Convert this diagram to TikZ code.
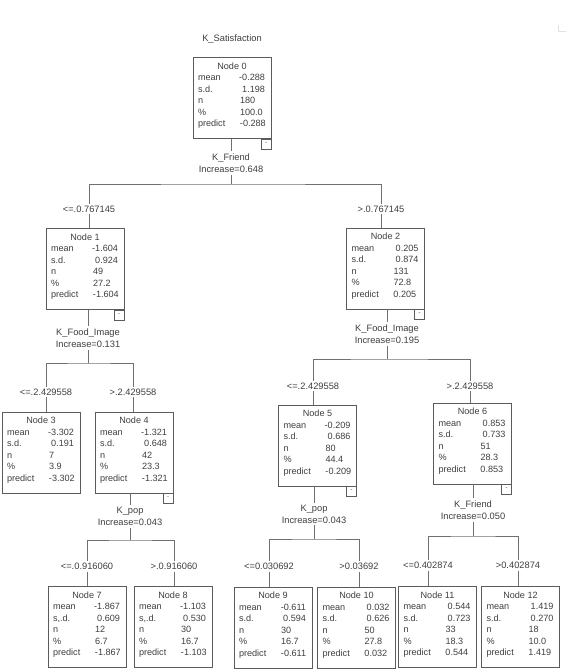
\documentclass[tikz,border=0pt]{standalone}
\usepackage{fontspec}
\setmainfont{Liberation Sans}
\usetikzlibrary{positioning}
\definecolor{TreeInk}{RGB}{62,62,62}
\definecolor{TreeLine}{RGB}{112,112,112}
\definecolor{TreeSmudge}{RGB}{225,225,225}
% one box of the tree: title, mean, s.d. label, s.d., n, %, predict
\newcommand{\statsbox}[7]{%
  \parbox[c][75pt][t]{72pt}{\centering\rule{0pt}{8.5pt}Node #1\par\raggedright
    \hspace*{2pt}\makebox[42pt][l]{mean}\makebox[25pt][r]{#2}\par
    \hspace*{2pt}\makebox[42pt][l]{#3}\makebox[25pt][r]{#4}\par
    \hspace*{2pt}\makebox[42pt][l]{n}\makebox[25pt][l]{#5}\par
    \hspace*{2pt}\makebox[42pt][l]{\%}\makebox[25pt][l]{#6}\par
    \hspace*{2pt}\makebox[42pt][l]{predict}\makebox[25pt][l]{#7}}}

\begin{document}
\begin{tikzpicture}[x=1pt,y=-1pt]
    \tikzset{statbox/.style={draw=TreeInk!85,inner sep=3pt,text=TreeInk,font=\fontsize{9.1}{11.5}\selectfont},
      fold/.style={draw=TreeInk!85,minimum size=10pt,inner sep=0pt,anchor=north east,text=TreeInk,font=\fontsize{6}{6}\selectfont},
      split/.style={align=center,inner sep=2pt,text=TreeInk,font=\fontsize{9.3}{12}\selectfont},
      cond/.style={inner sep=2pt,text=TreeInk,font=\fontsize{9.3}{10}\selectfont},
      conn/.style={draw=TreeLine,line width=0.9pt}}
    \useasboundingbox (0,0) rectangle (567,672);
    \draw[TreeSmudge,line width=0.8pt] (558,25) -- (558,31) -- (566,31);

    \node[cond] (title) at (232,39) {K\_Satisfaction};

    % root
    \node[statbox] (n0) at (232,98) {\statsbox{0}{-0.288}{s.d.}{1.198}{180}{100.0}{-0.288}};
    \node[fold] (m0) at (n0.south east) {\raisebox{0.8pt}{-}};
    \node[split] (s0) at (231,163) {K\_Friend\\Increase=0.648};
    \coordinate (b0) at (231,184);
    \node[cond] (c1) at (89,209) {<=.0.767145};
    \node[cond] (c2) at (381,209) {>.0.767145};

    % level 1
    \node[statbox] (n1) at (85,269) {\statsbox{1}{-1.604}{s.d.}{0.924}{49}{27.2}{-1.604}};
    \node[fold] (m1) at (n1.south east) {\raisebox{0.8pt}{-}};
    \node[statbox] (n2) at (385.5,268.5) {\statsbox{2}{0.205}{s.d.}{0.874}{131}{72.8}{0.205}};
    \node[fold] (m2) at (n2.south east) {\raisebox{0.8pt}{-}};

    \node[split] (s1) at (88,338) {K\_Food\_Image\\Increase=0.131};
    \coordinate (b1) at (88,363);
    \node[cond] (c3) at (46,392) {<=.2.429558};
    \node[cond] (c4) at (133,392) {>.2.429558};

    \node[split] (s2) at (387,334) {K\_Food\_Image\\Increase=0.195};
    \coordinate (b2) at (387,359);
    \node[cond] (c5) at (313,386) {<=.2.429558};
    \node[cond] (c6) at (470,386) {>.2.429558};

    % level 2
    \node[statbox] (n3) at (41,452.5) {\statsbox{3}{-3.302}{s.d.}{0.191}{7}{3.9}{-3.302}};
    \node[statbox] (n4) at (134,452.5) {\statsbox{4}{-1.321}{s.d.}{0.648}{42}{23.3}{-1.321}};
    \node[fold] (m4) at (n4.south east) {\raisebox{0.8pt}{-}};
    \node[statbox] (n5) at (317.5,445.5) {\statsbox{5}{-0.209}{s.d.}{0.686}{80}{44.4}{-0.209}};
    \node[fold] (m5) at (n5.south east) {\raisebox{0.8pt}{-}};
    \node[statbox] (n6) at (472.5,443.5) {\statsbox{6}{0.853}{s.d.}{0.733}{51}{28.3}{0.853}};
    \node[fold] (m6) at (n6.south east) {\raisebox{0.8pt}{-}};

    \node[split] (s4) at (130,516.5) {K\_pop\\Increase=0.043};
    \coordinate (b4) at (130,540);
    \node[cond] (c7) at (87,566) {<=.0.916060};
    \node[cond] (c8) at (174,566) {>.0.916060};

    \node[split] (s5) at (314,514) {K\_pop\\Increase=0.043};
    \coordinate (b5) at (314,539);
    \node[cond] (c9) at (269,566) {<=0.030692};
    \node[cond] (c10) at (359,566) {>0.03692};

    \node[split] (s6) at (473,510) {K\_Friend\\Increase=0.050};
    \coordinate (b6) at (473,536);
    \node[cond] (c11) at (428,565) {<=0.402874};
    \node[cond] (c12) at (518,565) {>0.402874};

    % leaves
    \node[statbox] (n7) at (87,627) {\statsbox{7}{-1.867}{s,.d.}{0.609}{12}{6.7}{-1.867}};
    \node[statbox] (n8) at (173,627) {\statsbox{8}{-1.103}{s,.d.}{0.530}{30}{16.7}{-1.103}};
    \node[statbox] (n9) at (273,627.5) {\statsbox{9}{-0.611}{s.d.}{0.594}{30}{16.7}{-0.611}};
    \node[statbox] (n10) at (356.5,627.5) {\statsbox{10}{0.032}{s.d.}{0.626}{50}{27.8}{0.032}};
    \node[statbox] (n11) at (437.5,627) {\statsbox{11}{0.544}{s.d.}{0.723}{33}{18.3}{0.544}};
    \node[statbox] (n12) at (520.5,627) {\statsbox{12}{1.419}{s.d.}{0.270}{18}{10.0}{1.419}};

    % connectors
    \draw[conn] (s0 |- n0.south) -- (s0.north);
    \draw[conn] (s0.south) -- (b0);
    \draw[conn] (c1.north) |- (b0) -| (c2.north);
    \draw[conn] (c1.south) -- (c1 |- n1.north);
    \draw[conn] (c2.south) -- (c2 |- n2.north);

    \draw[conn] (s1 |- n1.south) -- (s1.north);
    \draw[conn] (s1.south) -- (b1);
    \draw[conn] (c3.north) |- (b1) -| (c4.north);
    \draw[conn] (c3.south) -- (c3 |- n3.north);
    \draw[conn] (c4.south) -- (c4 |- n4.north);

    \draw[conn] (s2 |- n2.south) -- (s2.north);
    \draw[conn] (s2.south) -- (b2);
    \draw[conn] (c5.north) |- (b2) -| (c6.north);
    \draw[conn] (c5.south) -- (c5 |- n5.north);
    \draw[conn] (c6.south) -- (c6 |- n6.north);

    \draw[conn] (s4 |- n4.south) -- (s4.north);
    \draw[conn] (s4.south) -- (b4);
    \draw[conn] (c7.north) |- (b4) -| (c8.north);
    \draw[conn] (c7.south) -- (c7 |- n7.north);
    \draw[conn] (c8.south) -- (c8 |- n8.north);

    \draw[conn] (s5 |- n5.south) -- (s5.north);
    \draw[conn] (s5.south) -- (b5);
    \draw[conn] (c9.north) |- (b5) -| (c10.north);
    \draw[conn] (c9.south) -- (c9 |- n9.north);
    \draw[conn] (c10.south) -- (c10 |- n10.north);

    \draw[conn] (s6 |- n6.south) -- (s6.north);
    \draw[conn] (s6.south) -- (b6);
    \draw[conn] (c11.north) |- (b6) -| (c12.north);
    \draw[conn] (c11.south) -- (c11 |- n11.north);
    \draw[conn] (c12.south) -- (c12 |- n12.north);
\end{tikzpicture}
\end{document}
